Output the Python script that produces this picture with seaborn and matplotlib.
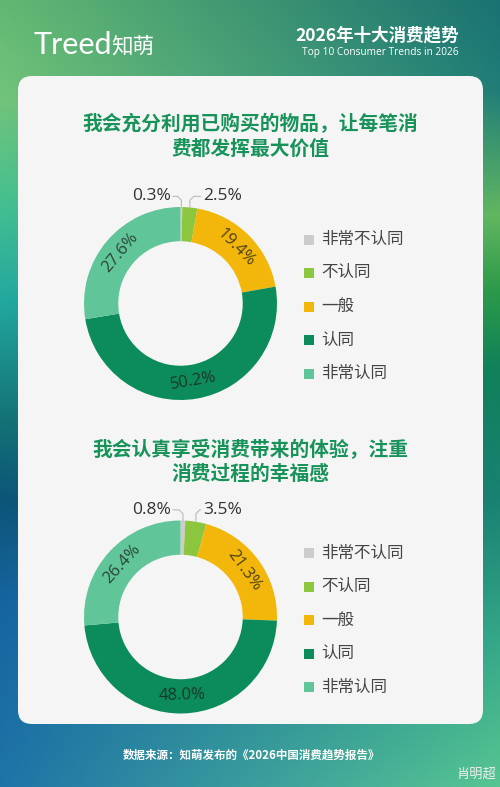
import numpy as np
import matplotlib
matplotlib.use('Agg')
import matplotlib.pyplot as plt
import seaborn as sns
from matplotlib.patches import FancyBboxPatch, Rectangle

# data
labels = ['非常不认同', '不认同', '一般', '认同', '非常认同']
values_1 = [0.3, 2.5, 19.4, 50.2, 27.6]
values_2 = [0.8, 3.5, 21.3, 48.0, 26.4]
title_1 = '我会充分利用已购买的物品，让每笔消\n费都发挥最大价值'
title_2 = '我会认真享受消费带来的体验，注重\n消费过程的幸福感'
colors = ['#cccccc', '#8cc63f', '#f2b70a', '#0c8c5a', '#60c69a']

sns.set_theme(style='white')
plt.rcParams['font.family'] = ['Noto Sans CJK SC', 'DejaVu Sans']
pal = sns.color_palette(colors)

W, H = 500, 787
fig = plt.figure(figsize=(5, 7.87), dpi=100)

# background gradient (left and right colour profiles, mixed across)
left_prof = [(0, '#62b872'), (100, '#72c47a'), (200, '#45c090'), (300, '#22a8a0'),
             (420, '#137276'), (500, '#0c5478'), (600, '#1664a0'), (787, '#1e74a8')]
right_prof = [(0, '#1a7272'), (90, '#207e78'), (215, '#62b660'), (290, '#2c9a48'),
              (370, '#10805a'), (500, '#1a8272'), (640, '#35a888'), (787, '#58c692')]

def profile(prof):
    ys = np.array([p[0] for p in prof])
    cs = np.array([matplotlib.colors.to_rgb(p[1]) for p in prof])
    yy = np.arange(H)
    return np.stack([np.interp(yy, ys, cs[:, k]) for k in range(3)], axis=1)

lc, rc = profile(left_prof), profile(right_prof)
t = np.linspace(0, 1, W)[None, :, None]
grad = lc[:, None, :] * (1 - t) + rc[:, None, :] * t

ax_bg = fig.add_axes([0, 0, 1, 1])
ax_bg.imshow(grad, extent=[0, W, H, 0], aspect='auto')
ax_bg.set_xlim(0, W)
ax_bg.set_ylim(H, 0)
ax_bg.axis('off')

card = FancyBboxPatch((18, 76), 465, 648, boxstyle='round,pad=0,rounding_size=14',
                      fc='#f5f5f5', ec='none')
ax_bg.add_patch(card)

# header
ax_bg.text(34, 54, 'Treed', color='white', fontsize=22, family='Lato',
           ha='left', va='baseline')
ax_bg.text(111, 52, '知萌', color='white', fontsize=15.5, ha='left', va='baseline')
ax_bg.text(459, 35, '2026年十大消费趋势', color='white', fontsize=12.6,
           fontweight='bold', ha='right', va='center')
ax_bg.text(459, 52, 'Top 10 Consumer Trends in 2026', color='white', fontsize=7.3,
           family='Open Sans', ha='right', va='center')

# footer
ax_bg.text(251, 755, '数据来源：知萌发布的《2026中国消费趋势报告》', color='white',
           fontsize=8.3, fontweight='bold', ha='center', va='center')
ax_bg.text(476, 774, '肖明超', color='#eeeeee', fontsize=9.5, ha='center', va='center')

title_color = '#17935a'


def donut(cy, title, ty, values):
    ax_bg.text(250, ty, title, color=title_color, fontsize=14.2, fontweight='bold',
               ha='center', va='center', linespacing=1.35)

    half = 130
    cx = 180.5
    ax = fig.add_axes([(cx - half) / W, (H - cy - half) / H, 2 * half / W, 2 * half / H])
    lim = half / 96.5
    wedges, _ = ax.pie(values, colors=pal, startangle=90, counterclock=False, radius=1,
                       wedgeprops=dict(width=0.355, edgecolor='none'))
    ax.set_xlim(-lim, lim)
    ax.set_ylim(-lim, lim)
    ax.set_aspect('equal')
    ax.axis('off')

    small = 0
    for w, v in zip(wedges, values):
        mid = np.deg2rad((w.theta1 + w.theta2) / 2)
        if v >= 5:
            r = 0.815
            rot = np.rad2deg(mid) - 90
            while rot > 90:
                rot -= 180
            while rot < -90:
                rot += 180
            ax.text(r * np.cos(mid), r * np.sin(mid), f'{v:.1f}%', fontsize=12,
                    family='Open Sans', color='#1e1e1e', alpha=0.78,
                    rotation=rot, rotation_mode='anchor', ha='center', va='center')
        else:
            mx = np.cos(mid)
            ly = 1.11
            if small == 0:
                tx = -0.1
                ax.text(tx, ly, f'{v:.1f}%', fontsize=12.5, family='Open Sans',
                        color='#333333', ha='right', va='center')
                ax.plot([mx, mx, mx - 0.04, tx + 0.02], [0.995, 1.07, ly, ly],
                        color='#bbbbbb', lw=0.8)
            else:
                tx = 0.23
                ax.text(tx, ly, f'{v:.1f}%', fontsize=12.5, family='Open Sans',
                        color='#333333', ha='left', va='center')
                ax.plot([mx, mx, mx + 0.04, tx - 0.02], [0.995, 1.07, ly, ly],
                        color='#bbbbbb', lw=0.8)
            small += 1

    # legend
    ly0 = cy - 64
    for i, lab in enumerate(labels):
        y = ly0 + i * 33.5
        ax_bg.add_patch(Rectangle((304, y - 5), 10, 10, fc=pal[i], ec='none'))
        ax_bg.text(321, y, lab, fontsize=11.9, color='#444444', ha='left', va='center')


donut(303.5, title_1, 136, values_1)
donut(617, title_2, 462, values_2)

fig.savefig('out.png', dpi=100)
